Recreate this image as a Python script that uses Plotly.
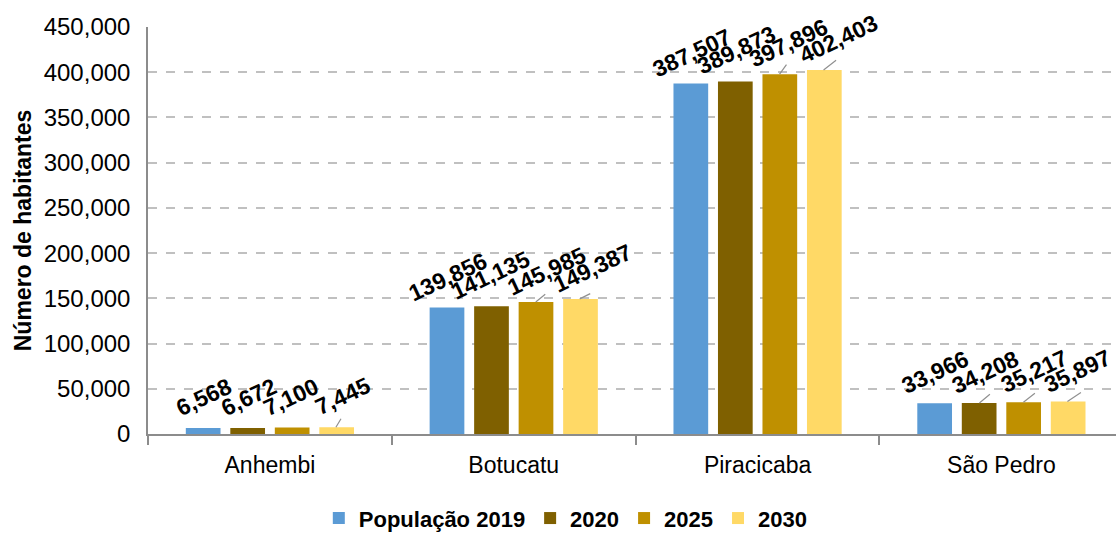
import plotly.graph_objects as go

categories = ["Anhembi", "Botucatu", "Piracicaba", "São Pedro"]
series_names = ["População 2019", "2020", "2025", "2030"]
pop_2019 = [6568, 139856, 387507, 33966]
pop_2020 = [6672, 141135, 389873, 34208]
pop_2025 = [7100, 145985, 397896, 35217]
pop_2030 = [7445, 149387, 402403, 35897]
colors = ["#5B9BD5", "#7F6000", "#BF9000", "#FFD966"]

values = [pop_2019, pop_2020, pop_2025, pop_2030]

FONT = "Liberation Sans, Arial, sans-serif"

fig = go.Figure()
for name, vals, col in zip(series_names, values, colors):
    fig.add_trace(go.Bar(x=categories, y=vals, name=name, marker_color=col,
                         marker_line_width=0))

# pixel offsets of each bar within its group
bar_dx = [-66, -22, 22, 66]
# label offsets (dx) per series/category; leader line endpoints for moved labels
label_dx = [
    [0, 0, 0, 0],
    [1, -1, 1, 6],
    [-1, 11, 9, 11],
    [7, 13, 15, 10],
]
leader = [
    [None, None, None, None],
    [None, None, None, (12, -10)],
    [None, (11, -9), (8, -11), (13, -10)],
    [(6, -10), (12, -6), (14, -11), (15, -10)],
]

annotations = []
for si, vals in enumerate(values):
    for ci, v in enumerate(vals):
        annotations.append(dict(
            x=categories[ci], y=v, xref="x", yref="y",
            text=f"{v:,}", showarrow=False, textangle=-25,
            xshift=bar_dx[si] + label_dx[si][ci], yshift=31,
            font=dict(family=FONT, size=23, color="#000000", weight="bold"),
        ))
        ld = leader[si][ci]
        if ld is not None:
            annotations.append(dict(
                x=categories[ci], y=v, xref="x", yref="y", text="",
                showarrow=True, arrowhead=0, arrowwidth=1.2,
                arrowcolor="#909090", ax=ld[0], ay=ld[1],
                xshift=bar_dx[si], standoff=0, startstandoff=0,
            ))

fig.update_layout(
    width=1116, height=533,
    margin=dict(l=148, r=0, t=27, b=99, autoexpand=False),
    paper_bgcolor="white", plot_bgcolor="white",
    barmode="group", bargap=0.27, bargroupgap=0.22,
    font=dict(family=FONT, size=24, color="#000000"),
    showlegend=True,
    legend=dict(orientation="h", xref="container", x=0.507, xanchor="center",
                y=-0.207, yanchor="middle",
                font=dict(family=FONT, size=22, color="#000000", weight="bold"),
                itemwidth=30, tracegroupgap=0),
    annotations=annotations,
)
fig.update_xaxes(
    range=[-0.5, 3.47], showline=True, linecolor="#8C8C8C", linewidth=1.5,
    ticks="outside", tickson="boundaries", ticklen=9, tickcolor="#8C8C8C",
    tickwidth=1.5, showgrid=False, automargin=False, ticklabelstandoff=10,
    tickfont=dict(family=FONT, size=23, color="#000000"),
)
fig.update_yaxes(
    range=[0, 450000], dtick=50000, tickformat=",",
    showline=True, linecolor="#8C8C8C", linewidth=1.5,
    showgrid=True, gridcolor="#C0C0C0", griddash="dash", gridwidth=1.5,
    zeroline=False, ticks="", ticklabelstandoff=11, automargin=False,
    tickfont=dict(family=FONT, size=24, color="#000000"),
    title=dict(text="Número de habitantes", standoff=6,
               font=dict(family=FONT, size=23, color="#000000", weight="bold")),
)

fig.write_html("out.html", config={"displayModeBar": False},
               post_script="document.body.style.margin='0';document.body.style.padding='0';")
